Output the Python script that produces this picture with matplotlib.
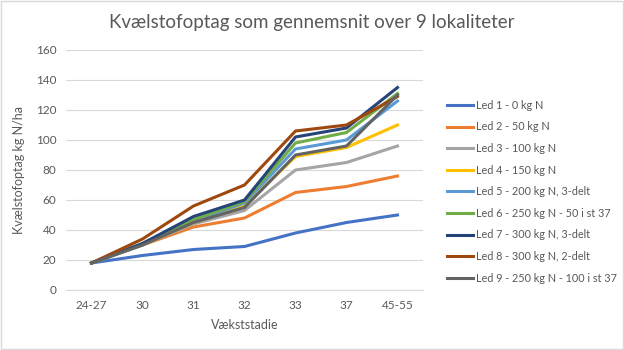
import matplotlib
matplotlib.use("Agg")
import matplotlib.pyplot as plt

plt.rcParams['font.family'] = ['Lato', 'DejaVu Sans']

# vækststadier
stadier = ["24-27", "30", "31", "32", "33", "37", "45-55"]

led1 = [18, 23, 27, 29, 38, 45, 50]
led2 = [18, 30, 42, 48, 65, 69, 76]
led3 = [18, 30, 44, 53, 80, 85, 96]
led4 = [18, 30, 45, 56, 89, 95, 110]
led5 = [18, 30, 46, 58, 94, 100, 126]
led6 = [18, 31, 47, 59, 98, 105, 131]
led7 = [18, 31, 49, 60, 102, 108, 135]
led8 = [18, 34, 56, 70, 106, 110, 129]
led9 = [18, 30, 45, 55, 90, 96, 130]

navne = ["Led 1 - 0 kg N", "Led 2 - 50 kg N", "Led 3 - 100 kg N", "Led 4 - 150 kg N",
         "Led 5 - 200 kg N, 3-delt", "Led 6 - 250 kg N - 50 i st 37",
         "Led 7 - 300 kg N, 3-delt", "Led 8 - 300 kg N, 2-delt",
         "Led 9 - 250 kg N - 100 i st 37"]
farver = ["#4472C4", "#ED7D31", "#A5A5A5", "#FFC000", "#5B9BD5",
          "#70AD47", "#264478", "#9E480E", "#636363"]

tekst = "#595959"

fig = plt.figure(figsize=(6.24, 3.5), dpi=100)
ax = fig.add_axes([66/624, 1 - 290/350, 357/624, 240/350])

x = range(len(stadier))
for data, navn, farve in zip([led1, led2, led3, led4, led5, led6, led7, led8, led9], navne, farver):
    ax.plot(x, data, color=farve, linewidth=2.2, label=navn, solid_joinstyle='round')

ax.set_xlim(-0.5, len(stadier) - 0.5)
ax.set_ylim(0, 160)
ax.set_yticks(range(0, 161, 20))
ax.set_xticks(list(x))
ax.set_xticklabels(stadier)
ax.grid(axis='y', color='#D9D9D9', linewidth=0.8)
ax.set_axisbelow(True)
for s in ['top', 'right', 'left']:
    ax.spines[s].set_visible(False)
ax.spines['bottom'].set_color('#D9D9D9')
ax.tick_params(axis='both', length=0, colors=tekst, labelsize=8.5, pad=7)

ax.set_xlabel("Vækststadie", color=tekst, fontsize=9, labelpad=6)
ax.set_ylabel("Kvælstofoptag kg N/ha", color=tekst, fontsize=9, labelpad=8)

fig.suptitle("Kvælstofoptag som gennemsnit over 9 lokaliteter", color=tekst, fontsize=13.5, y=0.96)

fig.legend(loc='upper left', bbox_to_anchor=(437/624, 1 - 90/350), frameon=False,
           fontsize=7.8, labelcolor=tekst, handlelength=2.4, handletextpad=0.3,
           labelspacing=0.98)

# kant om figuren
fig.patches.append(plt.Rectangle((0.001, 0.002), 0.997, 0.995, transform=fig.transFigure,
                                 fill=False, edgecolor='#D9D9D9', linewidth=1))

fig.savefig("out.png", dpi=100)
